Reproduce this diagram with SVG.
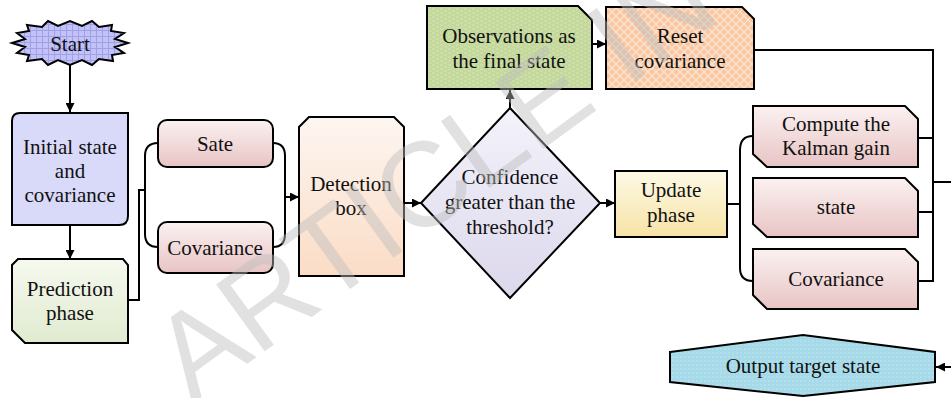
<svg xmlns="http://www.w3.org/2000/svg" width="951" height="398" viewBox="0 0 951 398">
  <style>
    .shape { stroke: #000; stroke-width: 2; stroke-linejoin: miter; }
    .lbl { font-family: 'Liberation Serif', 'Times New Roman', Times, serif; font-size: 21px; fill: #111; text-anchor: middle; }
    .wire { fill: none; stroke: #000; stroke-width: 2; }
    .arrow { fill: none; stroke: #000; stroke-width: 2; marker-end: url(#ah); }
    .mark { font-family: 'Liberation Sans', Arial, sans-serif; font-size: 120px; fill: #bdbdbd; fill-opacity: 0.45; }
  </style>
  <defs>
    <marker id="ah" viewBox="0 0 10 10" refX="10" refY="5" markerWidth="9" markerHeight="9" markerUnits="userSpaceOnUse" orient="auto">
      <path d="M0,0 L10,5 L0,10 z" fill="#000"/>
    </marker>
    <pattern id="grid" width="6" height="6" patternUnits="userSpaceOnUse">
      <rect width="6" height="6" fill="#c2c2f8"/>
      <path d="M0,0.5H6M0.5,0V6" stroke="#a0a0e6" stroke-width="1"/>
    </pattern>
    <pattern id="brick" width="8" height="4" patternUnits="userSpaceOnUse">
      <rect width="8" height="4" fill="#c4d89c"/>
      <path d="M0,1H3M4,3H7" stroke="#d4e4b4" stroke-width="1"/>
    </pattern>
    <pattern id="hatch" width="8" height="8" patternUnits="userSpaceOnUse">
      <rect width="8" height="8" fill="#f8c6a2"/>
      <path d="M0,0L8,8M8,0L0,8" stroke="#fde2cc" stroke-width="1.4"/>
    </pattern>
    <pattern id="dots" width="4" height="4" patternUnits="userSpaceOnUse">
      <rect width="4" height="4" fill="#a6dae8"/>
      <circle cx="1" cy="1" r="0.7" fill="#c8eaf3"/>
    </pattern>
    <linearGradient id="gGreen" x1="0" y1="0" x2="0" y2="1">
      <stop offset="0" stop-color="#f5f9ef"/>
      <stop offset="1" stop-color="#e0ebcf"/>
    </linearGradient>
    <linearGradient id="gPink" x1="0" y1="0" x2="0" y2="1">
      <stop offset="0" stop-color="#fbf1f1"/>
      <stop offset="1" stop-color="#e8c4c4"/>
    </linearGradient>
    <linearGradient id="gPeach" x1="0" y1="0" x2="0" y2="1">
      <stop offset="0" stop-color="#fdf6f1"/>
      <stop offset="1" stop-color="#fbdcc6"/>
    </linearGradient>
    <linearGradient id="gLilac" x1="0" y1="0" x2="0" y2="1">
      <stop offset="0" stop-color="#f4f2fb"/>
      <stop offset="1" stop-color="#dcd8ec"/>
    </linearGradient>
    <linearGradient id="gYellow" x1="0" y1="0" x2="0" y2="1">
      <stop offset="0" stop-color="#fdf9e6"/>
      <stop offset="1" stop-color="#f7e3a6"/>
    </linearGradient>
  </defs>

  <!-- connectors -->
  <g id="connectors">
    <line class="arrow" x1="70" y1="65" x2="70" y2="112"/>
    <line class="arrow" x1="70" y1="225" x2="70" y2="259"/>
    <polyline class="wire" points="128,300 139,300 139,190 145,190"/>
    <path class="wire" d="M158,143 Q145,143 145,156 L145,234 Q145,247 158,247"/>
    <path class="wire" d="M273,143 Q285,143 285,156 L285,234 Q285,247 273,247"/>
    <line class="arrow" x1="285" y1="197" x2="299" y2="197"/>
    <line class="arrow" x1="404" y1="203" x2="421" y2="203"/>
    <line class="arrow" x1="510" y1="108" x2="510" y2="90"/>
    <line class="arrow" x1="592" y1="44" x2="606" y2="44"/>
    <line class="arrow" x1="600" y1="203" x2="615" y2="203"/>
    <line class="wire" x1="727" y1="204" x2="740" y2="204"/>
    <path class="wire" d="M753,136 Q740,136 740,150 L740,268 Q740,281 753,281"/>
    <polyline class="wire" points="754,50 933,50 933,282"/>
    <line class="wire" x1="918" y1="138" x2="933" y2="138"/>
    <line class="wire" x1="918" y1="212" x2="933" y2="212"/>
    <line class="wire" x1="918" y1="281" x2="933" y2="281"/>
    <line class="wire" x1="933" y1="182" x2="951" y2="182"/>
    <line class="arrow" x1="951" y1="367" x2="936" y2="367"/>
  </g>

  <g id="start">
    <polygon class="shape" fill="url(#grid)" points="12,43 25,39 17,33 29,31 27,25 42,27 48,21 58,26 70,21 82,26 92,21 99,27 112,25 111,31 124,33 115,39 128,43 115,47 124,53 112,55 113,61 99,59 92,65 82,60 70,65 58,60 48,65 42,59 27,61 29,55 17,53 25,47"/>
    <text class="lbl" x="70" y="51">Start</text>
  </g>

  <g id="initial-state">
    <path class="shape" fill="#d9d9f9" d="M20,113 H128 V216 Q128,225 119,225 H12 V121 Q12,113 20,113 Z"/>
    <text class="lbl" x="70" y="154">Initial state</text>
    <text class="lbl" x="70" y="178">and</text>
    <text class="lbl" x="70" y="202">covariance</text>
  </g>

  <g id="prediction-phase">
    <path class="shape" fill="url(#gGreen)" d="M18,259 H123 L128,265 V343 H25 L12,330 V265 Z"/>
    <text class="lbl" x="70" y="296">Prediction</text>
    <text class="lbl" x="70" y="320">phase</text>
  </g>

  <g id="sate">
    <rect class="shape" fill="url(#gPink)" x="158" y="120" width="115" height="47" rx="9"/>
    <text class="lbl" x="215" y="151">Sate</text>
  </g>

  <g id="covariance-predicted">
    <rect class="shape" fill="url(#gPink)" x="158" y="222" width="115" height="51" rx="9"/>
    <text class="lbl" x="215" y="255">Covariance</text>
  </g>

  <g id="detection-box">
    <path class="shape" fill="url(#gPeach)" d="M309,117 H394 L404,127 V276 H299 V127 Z"/>
    <text class="lbl" x="351" y="191">Detection</text>
    <text class="lbl" x="351" y="215">box</text>
  </g>

  <g id="confidence-check">
    <polygon class="shape" fill="url(#gLilac)" points="510,108 600,203 510,298 421,203"/>
    <text class="lbl" x="510" y="184">Confidence</text>
    <text class="lbl" x="510" y="209">greater than the</text>
    <text class="lbl" x="510" y="234">threshold?</text>
  </g>

  <g id="observations">
    <path class="shape" fill="url(#brick)" d="M427,6 H578 L592,20 V89 H427 Z"/>
    <text class="lbl" x="509" y="43">Observations as</text>
    <text class="lbl" x="509" y="68">the final state</text>
  </g>

  <g id="reset-covariance">
    <path class="shape" fill="url(#hatch)" d="M606,7 H742 L754,19 V89 H606 Z"/>
    <text class="lbl" x="680" y="43">Reset</text>
    <text class="lbl" x="680" y="68">covariance</text>
  </g>

  <g id="update-phase">
    <rect class="shape" fill="url(#gYellow)" x="615" y="171" width="112" height="66"/>
    <text class="lbl" x="671" y="197">Update</text>
    <text class="lbl" x="671" y="222">phase</text>
  </g>

  <g id="kalman-gain">
    <path class="shape" fill="url(#gPink)" d="M753,106 H905 L918,119 V167 H767 L753,154 Z"/>
    <text class="lbl" x="836" y="131">Compute the</text>
    <text class="lbl" x="836" y="155">Kalman gain</text>
  </g>

  <g id="state-update">
    <path class="shape" fill="url(#gPink)" d="M753,178 H905 L918,191 V237 H767 L753,224 Z"/>
    <text class="lbl" x="836" y="214">state</text>
  </g>

  <g id="covariance-update">
    <path class="shape" fill="url(#gPink)" d="M753,249 H905 L918,262 V309 H767 L753,295 Z"/>
    <text class="lbl" x="836" y="286">Covariance</text>
  </g>

  <g id="output-target-state">
    <polygon class="shape" fill="url(#dots)" points="670,352 803,335 935,352 935,382 803,396 670,382"/>
    <text class="lbl" x="803" y="373">Output target state</text>
  </g>

  <!-- watermark -->
  <text class="mark" transform="translate(192,404) rotate(-36)">ARTICLE IN PRESS</text>
</svg>
